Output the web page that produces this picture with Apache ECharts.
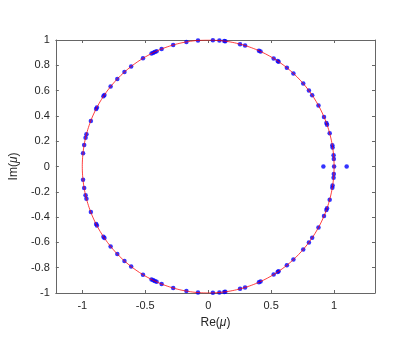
<!DOCTYPE html>
<html>
<head>
<meta charset="utf-8">
<script src="https://cdn.jsdelivr.net/npm/echarts@6/dist/echarts.min.js"></script>
<style>
  html, body { margin: 0; padding: 0; background: #fff; }
  #chart { width: 415px; height: 346px; }
</style>
</head>
<body>
<div id="chart"></div>
<script>
// eigenvalues, upper half plane; lower half is the conjugate
const upperRe = [-0.994, -0.985, -0.974, -0.967, -0.932, -0.890, -0.884, -0.832, -0.824, -0.775,
  -0.722, -0.665, -0.612, -0.518, -0.450, -0.436, -0.424, -0.410, -0.370, -0.278,
  -0.173, -0.081, 0.037, 0.089, 0.128, 0.136, 0.253, 0.293, 0.403, 0.416,
  0.520, 0.552, 0.559, 0.625, 0.677, 0.755, 0.800, 0.826, 0.876, 0.920,
  0.939, 0.944, 0.965, 0.986, 0.988, 0.996, 0.998]
const upperIm = [0.105, 0.170, 0.228, 0.254, 0.360, 0.455, 0.467, 0.555, 0.566, 0.632,
  0.692, 0.747, 0.791, 0.855, 0.893, 0.900, 0.906, 0.912, 0.929, 0.961,
  0.985, 0.997, 0.999, 0.996, 0.992, 0.991, 0.967, 0.956, 0.915, 0.909,
  0.854, 0.834, 0.829, 0.781, 0.736, 0.656, 0.600, 0.564, 0.482, 0.392,
  0.344, 0.330, 0.262, 0.167, 0.151, 0.089, 0.060]
// real eigenvalues
const realRe = [0.915, 1.0, 1.1]

const xTicks = [-1, -0.5, 0, 0.5, 1]

const points = []
upperRe.forEach((re, i) => {
  points.push([re, upperIm[i]])
  points.push([re, -upperIm[i]])
})
realRe.forEach((re) => points.push([re, 0]))

// unit circle for reference
const circle = []
for (let k = 0; k <= 360; k++) {
  const t = (k * Math.PI) / 180
  circle.push([Math.cos(t), Math.sin(t)])
}

const lineColor = '#666'
const textColor = '#262626'
const font = 'Arial, "Liberation Sans", sans-serif'

const nameStyle = {
  color: textColor, fontSize: 12, fontFamily: font,
  rich: { mu: { color: textColor, fontSize: 12, fontFamily: font, fontStyle: 'italic' } },
}

const chart = echarts.init(document.getElementById('chart'))

const xBase = {
  type: 'value',
  min: -1.21,
  max: 1.325,
  splitLine: { show: false },
  axisLine: { show: true, onZero: false, lineStyle: { color: lineColor, width: 1 } },
  axisTick: { show: true, inside: true, length: 3, customValues: xTicks, lineStyle: { color: lineColor } },
}
const yBase = {
  type: 'value',
  min: -1,
  max: 1,
  interval: 0.2,
  splitLine: { show: false },
  axisLine: { show: true, onZero: false, lineStyle: { color: lineColor, width: 1 } },
  axisTick: { show: true, inside: true, length: 3, lineStyle: { color: lineColor } },
}

chart.setOption({
  backgroundColor: '#fff',
  animation: false,
  grid: { left: 54, right: 40, top: 40, bottom: 53, containLabel: false },
  xAxis: [
    Object.assign({}, xBase, {
      position: 'bottom',
      name: 'Re({mu|μ})',
      nameLocation: 'middle',
      nameGap: 24,
      nameTextStyle: nameStyle,
      axisLabel: {
        customValues: xTicks, color: textColor, fontSize: 11, fontFamily: font, margin: 7,
      },
    }),
    Object.assign({}, xBase, { position: 'top', axisLabel: { show: false } }),
  ],
  yAxis: [
    Object.assign({}, yBase, {
      position: 'left',
      name: 'Im({mu|μ})',
      nameLocation: 'middle',
      nameGap: 29,
      nameRotate: 90,
      nameTextStyle: nameStyle,
      axisLabel: { color: textColor, fontSize: 11, fontFamily: font, margin: 6 },
    }),
    Object.assign({}, yBase, { position: 'right', axisLabel: { show: false } }),
  ],
  series: [
    {
      type: 'scatter',
      data: points,
      symbol: 'circle',
      symbolSize: 4.5,
      itemStyle: { color: '#0000ff' },
      z: 2,
    },
    {
      type: 'line',
      data: circle,
      showSymbol: false,
      smooth: false,
      lineStyle: { color: '#ff0000', width: 1, opacity: 0.75 },
      z: 3,
    },
  ],
})
</script>
</body>
</html>
